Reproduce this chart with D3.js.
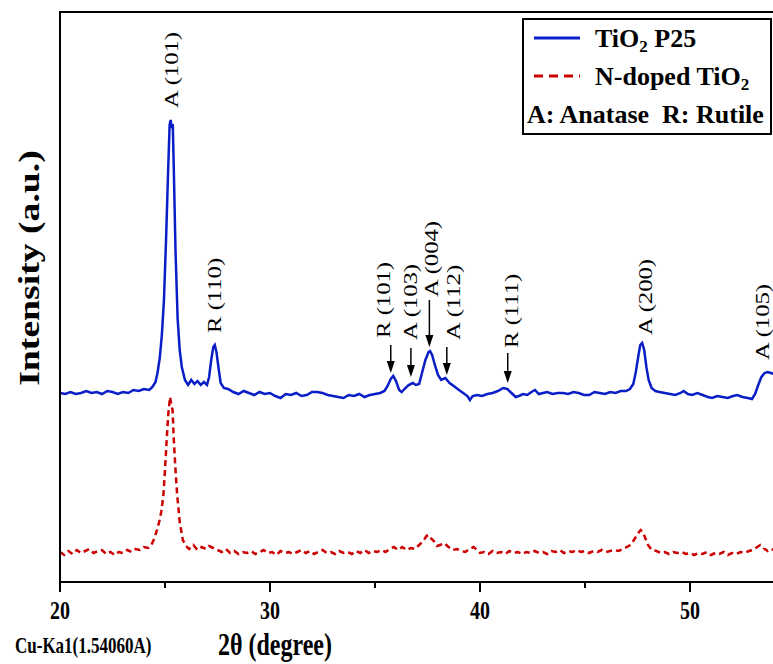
<!doctype html>
<html>
<head>
<meta charset="utf-8">
<style>
body { margin: 0; background: #fff; }
svg { font-family: "Times New Roman", "Liberation Serif", serif; }
</style>
<script src="https://d3js.org/d3.v7.min.js"></script>
</head>
<body>
<svg width="773" height="664"></svg>
<script>
// XRD patterns, [2theta, intensity (a.u., stacked)]
var p25 = [
  [20.0,189],[20.25,188],[20.5,190],[20.75,188],[21.0,189],[21.25,191],[21.5,189],[21.75,190],
  [22.0,188],[22.25,191],[22.5,190],[22.75,188],[23.0,190],[23.25,189],[23.5,192],[23.75,191],
  [24.0,193],[24.25,192],[24.4,195],[24.55,200],[24.65,210],[24.75,224],[24.85,247],[24.95,282],
  [25.05,342],[25.15,412],[25.22,457],[25.27,462],[25.32,454],[25.37,458],[25.42,412],[25.5,332],
  [25.6,264],[25.7,232],[25.8,215],[25.95,202],[26.1,197],[26.25,202],[26.4,198],[26.55,201],
  [26.7,197],[26.85,200],[27.0,197],[27.1,205],[27.2,222],[27.3,235],[27.37,237],[27.45,230],
  [27.55,214],[27.65,199],[27.8,194],[28.0,193],[28.25,190],[28.5,188],[28.75,191],[29.0,189],
  [29.25,187],[29.5,190],[29.75,188],[30.0,189],[30.25,186],[30.5,184],[30.75,188],[31.0,187],
  [31.25,189],[31.5,186],[31.75,187],[32.0,190],[32.25,190],[32.5,189],[32.75,187],[33.0,186],
  [33.25,185],[33.5,184],[33.75,187],[34.0,186],[34.25,188],[34.5,185],[34.75,187],[35.0,188],
  [35.25,189],[35.45,191],[35.6,196],[35.75,203],[35.87,206],[36.0,201],[36.15,192],[36.27,190],
  [36.4,193],[36.6,197],[36.8,199],[36.95,197],[37.1,198],[37.25,210],[37.4,222],[37.55,230],
  [37.62,231],[37.72,227],[37.85,217],[38.0,207],[38.15,202],[38.35,204],[38.55,199],[38.75,196],
  [39.0,192],[39.2,189],[39.4,186],[39.52,182],[39.65,186],[39.85,187],[40.1,186],[40.35,188],
  [40.6,189],[40.85,191],[41.1,194],[41.3,193],[41.5,189],[41.7,185],[41.85,186],[42.05,188],
  [42.25,187],[42.45,190],[42.62,192],[42.8,188],[43.0,189],[43.2,190],[43.45,188],[43.7,189],
  [43.95,189],[44.2,188],[44.45,190],[44.7,189],[44.95,187],[45.2,187],[45.45,190],[45.7,189],
  [45.95,188],[46.2,190],[46.45,189],[46.7,191],[46.95,191],[47.14,193],[47.3,198],[47.42,210],
  [47.54,226],[47.63,237],[47.72,239],[47.82,232],[47.93,214],[48.03,202],[48.17,194],[48.35,191],
  [48.55,190],[48.8,189],[49.05,188],[49.3,187],[49.55,189],[49.7,191],[49.9,188],[50.1,187],
  [50.35,189],[50.6,187],[50.85,185],[51.05,184],[51.3,186],[51.55,185],[51.8,184],[52.05,186],
  [52.25,187],[52.5,185],[52.75,184],[52.95,183],[53.1,188],[53.25,197],[53.4,205],[53.55,209],
  [53.7,210],[53.85,209],[54.0,208]
];

var nDoped = [
  [20.0,30],[20.2,27],[20.4,31],[20.6,28],[20.8,32],[21.0,29],[21.2,31],[21.4,33],[21.6,29],
  [21.8,31],[22.0,32],[22.2,28],[22.4,30],[22.6,27],[22.8,30],[23.0,29],[23.2,32],[23.4,30],
  [23.6,33],[23.8,32],[24.0,35],[24.2,34],[24.35,37],[24.5,44],[24.62,52],[24.72,60],[24.82,70],
  [24.92,86],[25.0,112],[25.08,142],[25.16,169],[25.24,185],[25.3,177],[25.36,172],[25.42,142],
  [25.5,112],[25.58,87],[25.7,60],[25.85,42],[26.0,36],[26.15,33],[26.35,37],[26.55,32],[26.75,35],
  [26.95,33],[27.1,36],[27.3,34],[27.5,32],[27.7,30],[27.9,33],[28.1,29],[28.3,31],[28.5,28],
  [28.7,30],[28.9,29],[29.1,31],[29.3,28],[29.5,30],[29.7,32],[29.9,29],[30.1,30],[30.3,27],
  [30.5,31],[30.7,29],[30.9,30],[31.1,28],[31.3,30],[31.5,32],[31.7,29],[31.9,31],[32.1,28],
  [32.3,30],[32.5,32],[32.7,29],[32.9,30],[33.1,28],[33.3,31],[33.5,29],[33.7,30],[33.9,28],
  [34.1,31],[34.3,29],[34.5,32],[34.7,29],[34.9,31],[35.1,30],[35.3,32],[35.5,30],[35.7,33],
  [35.9,35],[36.1,32],[36.3,35],[36.5,32],[36.7,34],[36.9,33],[37.1,37],[37.3,41],[37.45,46],
  [37.55,47],[37.65,44],[37.8,41],[37.95,36],[38.1,37],[38.3,39],[38.5,35],[38.7,32],[38.9,33],
  [39.1,31],[39.3,30],[39.5,33],[39.7,35],[39.85,32],[40.0,29],[40.2,30],[40.4,28],[40.6,31],
  [40.8,29],[41.0,30],[41.2,28],[41.4,31],[41.6,29],[41.8,30],[42.0,28],[42.2,30],[42.4,29],
  [42.6,31],[42.8,29],[43.0,30],[43.2,28],[43.4,31],[43.6,30],[43.8,32],[44.0,29],[44.2,31],
  [44.4,30],[44.6,32],[44.8,30],[45.0,31],[45.2,29],[45.4,31],[45.6,30],[45.8,32],[46.0,30],
  [46.2,31],[46.4,32],[46.6,31],[46.8,33],[47.0,35],[47.15,37],[47.3,41],[47.42,45],[47.54,49],
  [47.65,52],[47.75,50],[47.87,44],[48.0,37],[48.18,32],[48.4,31],[48.6,29],[48.8,30],[49.0,28],
  [49.2,30],[49.4,29],[49.6,30],[49.8,28],[50.0,29],[50.2,27],[50.4,29],[50.6,28],[50.8,30],
  [51.0,27],[51.2,29],[51.4,28],[51.6,30],[51.8,27],[52.0,29],[52.2,28],[52.4,30],[52.6,29],
  [52.8,31],[53.0,32],[53.2,35],[53.35,37],[53.5,34],[53.7,31],[53.85,33],[54.0,32]
];

var xTicks = [20, 30, 40, 50];
var xMinorTicks = [25, 35, 45];

// peak annotations
var peakNames = ["A (101)", "R (110)", "R (101)", "A (103)", "A (004)", "A (112)", "R (111)", "A (200)", "A (105)"];
var peakTheta = [25.29, 27.36, 35.43, 36.67, 37.67, 38.76, 41.52, 47.86, 53.45];
var peakLabelAt = [474, 249, 244, 242, 285, 242, 234, 247, 222];
var arrowTheta = [35.75, 36.71, 37.59, 38.42, 41.32];
var arrowFrom = [237, 234, 282, 235, 229];
var arrowTo = [209, 205, 235, 207, 199];

var svg = d3.select("svg");
var stretch = 1.3;

var x = d3.scaleLinear().domain([20, 54]).range([60, 774]);
var y = d3.scaleLinear().domain([0, 570]).range([582, 12]);

var line = d3.line()
    .x(function(d) { return x(d[0]); })
    .y(function(d) { return y(d[1]); });

// curves
svg.append("path")
    .datum(nDoped)
    .attr("d", line)
    .attr("fill", "none")
    .attr("stroke", "#cc0000")
    .attr("stroke-width", 2.5)
    .attr("stroke-dasharray", "6,4");

svg.append("path")
    .datum(p25)
    .attr("d", line)
    .attr("fill", "none")
    .attr("stroke", "#0a1ec8")
    .attr("stroke-width", 2.5);

// frame
svg.append("line").attr("x1", 60).attr("x2", 773).attr("y1", 12).attr("y2", 12)
    .attr("stroke", "#000").attr("stroke-width", 2);
svg.append("line").attr("x1", 60).attr("x2", 60).attr("y1", 11).attr("y2", 583)
    .attr("stroke", "#000").attr("stroke-width", 2);

var xAxis = svg.append("g").attr("transform", "translate(0,582)");
xAxis.append("line").attr("x1", 59).attr("x2", 773)
    .attr("stroke", "#000").attr("stroke-width", 2);
xAxis.selectAll(".major").data(xTicks).enter().append("line")
    .attr("x1", x).attr("x2", x).attr("y1", 0).attr("y2", 10)
    .attr("stroke", "#000").attr("stroke-width", 2);
xAxis.selectAll(".minor").data(xMinorTicks).enter().append("line")
    .attr("x1", x).attr("x2", x).attr("y1", 0).attr("y2", 6)
    .attr("stroke", "#000").attr("stroke-width", 2);
xAxis.selectAll("text").data(xTicks).enter().append("text")
    .attr("transform", function(d) { return "translate(" + x(d) + ",37) scale(1," + stretch + ")"; })
    .attr("text-anchor", "middle")
    .attr("font-size", 20).attr("font-weight", "bold")
    .text(function(d) { return d; });

svg.append("text")
    .attr("transform", "translate(275,655) scale(1," + stretch + ")")
    .attr("text-anchor", "middle")
    .attr("font-size", 24).attr("font-weight", "bold")
    .text("2θ (degree)");

svg.append("text")
    .attr("transform", "translate(15,653) scale(1," + stretch + ")")
    .attr("font-size", 17).attr("font-weight", "bold")
    .text("Cu-Ka1(1.54060A)");

svg.append("text")
    .attr("transform", "translate(29,268) scale(1," + stretch + ") rotate(-90)")
    .attr("text-anchor", "middle")
    .attr("dominant-baseline", "central")
    .attr("font-size", 29).attr("font-weight", "bold")
    .text("Intensity (a.u.)");

// peak labels
svg.selectAll(".peak").data(peakNames).enter().append("text")
    .attr("transform", function(d, i) {
      return "translate(" + x(peakTheta[i]) + "," + y(peakLabelAt[i]) + ") scale(1," + stretch + ") rotate(-90)";
    })
    .attr("dominant-baseline", "central")
    .attr("font-size", 19)
    .text(function(d) { return d; });

svg.selectAll(".arrow").data(arrowTheta).enter().append("line")
    .attr("x1", x).attr("x2", x)
    .attr("y1", function(d, i) { return y(arrowFrom[i]); })
    .attr("y2", function(d, i) { return y(arrowTo[i]) - 9; })
    .attr("stroke", "#000").attr("stroke-width", 1.5);
svg.selectAll(".head").data(arrowTheta).enter().append("path")
    .attr("d", function(d, i) {
      var px = x(d), py = y(arrowTo[i]);
      return "M" + (px - 4) + "," + (py - 12) + "L" + (px + 4) + "," + (py - 12) + "L" + px + "," + py + "Z";
    })
    .attr("fill", "#000");

// legend
var legend = svg.append("g");
legend.append("rect").attr("x", 523).attr("y", 19).attr("width", 248).attr("height", 115)
    .attr("fill", "#fff").attr("stroke", "#000").attr("stroke-width", 2);
legend.append("line").attr("x1", 534).attr("x2", 580).attr("y1", 38).attr("y2", 38)
    .attr("stroke", "#0a1ec8").attr("stroke-width", 3);
legend.append("line").attr("x1", 534).attr("x2", 580).attr("y1", 76).attr("y2", 76)
    .attr("stroke", "#cc0000").attr("stroke-width", 3).attr("stroke-dasharray", "9,6");

var t1 = legend.append("text").attr("x", 595).attr("y", 47)
    .attr("font-size", 26).attr("font-weight", "bold");
t1.append("tspan").text("TiO");
t1.append("tspan").attr("font-size", 17).attr("dy", 5).text("2");
t1.append("tspan").attr("dy", -5).text(" P25");

var t2 = legend.append("text").attr("x", 595).attr("y", 85)
    .attr("font-size", 26).attr("font-weight", "bold");
t2.append("tspan").text("N-doped TiO");
t2.append("tspan").attr("font-size", 17).attr("dy", 5).text("2");

legend.append("text").attr("x", 527).attr("y", 123)
    .attr("font-size", 26).attr("font-weight", "bold")
    .attr("xml:space", "preserve")
    .text("A: Anatase  R: Rutile");
</script>
</body>
</html>
